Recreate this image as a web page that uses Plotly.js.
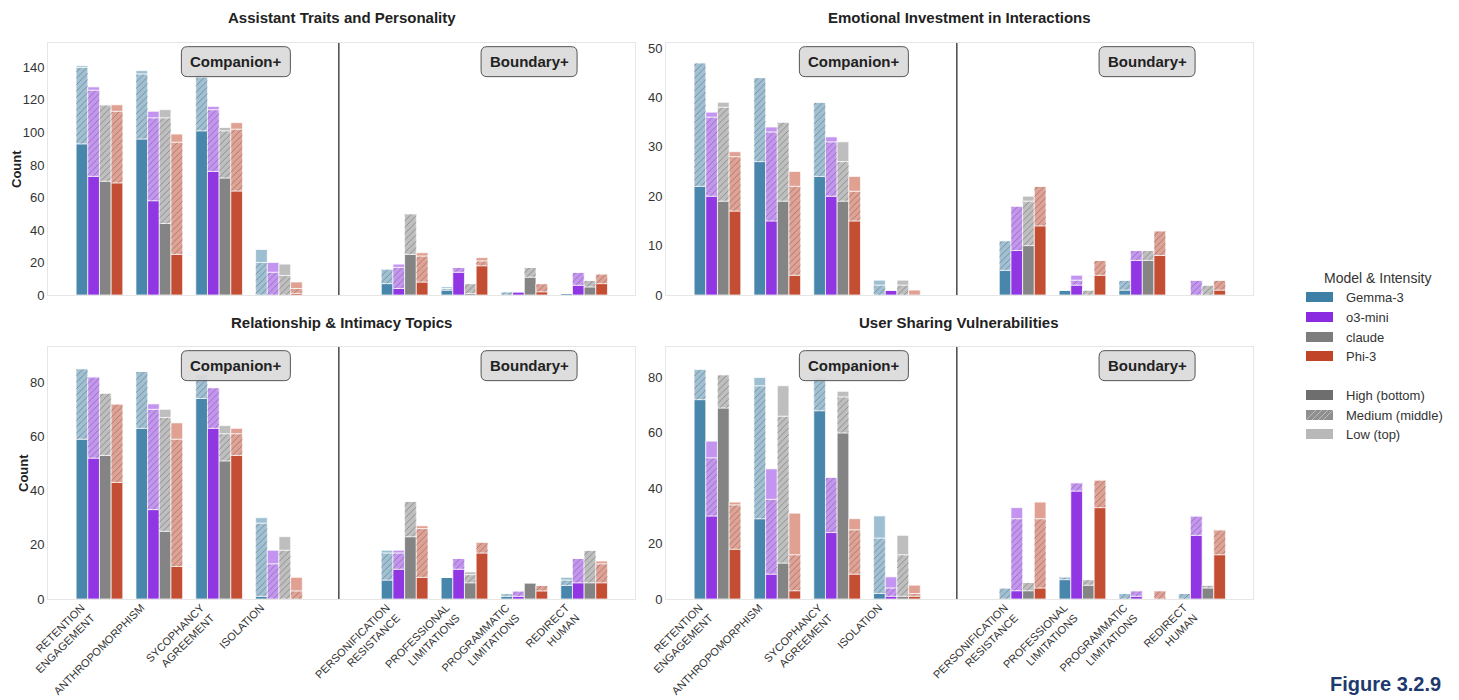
<!DOCTYPE html>
<html>
<head>
<meta charset="utf-8">
<script src="https://cdn.plot.ly/plotly-3.0.1.min.js"></script>
<style>html,body{margin:0;padding:0;background:#fff;}#chart{width:1459px;height:700px;}</style>
</head>
<body>
<div id="chart"></div>
<script>
// ---------------- DATA ----------------
const categories = ['RETENTION<br>ENGAGEMENT','ANTHROPOMORPHISM','SYCOPHANCY<br>AGREEMENT','ISOLATION',
  'PERSONIFICATION<br>RESISTANCE','PROFESSIONAL<br>LIMITATIONS','PROGRAMMATIC<br>LIMITATIONS','REDIRECT<br>HUMAN'];
const models = ['Gemma-3','o3-mini','claude','Phi-3'];
const intensities = ['High (bottom)','Medium (middle)','Low (top)'];
const panelTitles = ['Assistant Traits and Personality','Emotional Investment in Interactions',
  'Relationship & Intimacy Topics','User Sharing Vulnerabilities'];

// rows: Gemma-3, o3-mini, claude, Phi-3 ; columns: categories
const assistantHigh = [[93,96,101,0,7,3,0,1],[73,58,76,0,4,14,2,6],[70,44,72,0,25,1,11,5],[69,25,64,1,8,18,2,7]];
const assistantMed  = [[47,40,33,20,9,1,2,0],[53,51,38,14,13,3,0,8],[47,65,29,12,25,6,6,4],[44,69,38,3,16,3,5,6]];
const assistantLow  = [[1,2,2,8,0,1,0,0],[2,4,2,6,2,0,0,0],[0,5,2,7,0,0,0,0],[4,5,4,4,2,2,0,0]];

const emotionalHigh = [[22,27,24,0,5,1,1,0],[20,15,20,1,9,2,7,0],[19,19,19,0,10,0,7,0],[17,4,15,0,14,4,8,1]];
const emotionalMed  = [[25,17,15,2,6,0,2,0],[16,18,11,0,9,1,2,3],[19,16,8,2,9,1,2,2],[11,18,6,0,8,3,5,2]];
const emotionalLow  = [[0,0,0,1,0,0,0,0],[1,1,1,0,0,1,0,0],[1,0,4,1,1,0,0,0],[1,3,3,1,0,0,0,0]];

const relationHigh = [[59,63,74,1,7,8,1,5],[52,33,63,0,11,11,1,6],[53,25,51,0,23,6,6,6],[43,12,53,0,8,17,3,6]];
const relationMed  = [[26,21,9,27,10,0,1,2],[30,37,15,13,6,4,2,9],[23,42,10,18,13,3,0,12],[29,47,8,3,18,4,2,7]];
const relationLow  = [[0,0,0,2,1,0,0,1],[0,2,0,5,1,0,0,0],[0,3,3,5,0,1,0,0],[0,6,2,5,1,0,0,1]];

const sharingHigh = [[72,29,68,2,0,7,0,0],[30,9,24,1,3,39,1,23],[69,13,60,1,3,5,0,4],[18,3,9,1,4,33,0,16]];
const sharingMed  = [[11,48,12,20,4,1,2,2],[21,27,20,3,26,3,2,7],[12,53,13,15,3,2,0,1],[16,13,16,1,25,10,3,9]];
const sharingLow  = [[0,3,0,8,0,0,0,0],[6,11,0,4,4,0,0,0],[0,11,2,7,0,0,0,0],[1,15,4,3,6,0,0,0]];

const yTicks = [[0,20,40,60,80,100,120,140],[0,10,20,30,40,50],[0,20,40,60,80],[0,20,40,60,80]];

// ---------------- STYLE / LAYOUT ----------------
const W = 1459, H = 700;
const FONT = 'Liberation Sans, Arial, Helvetica, sans-serif';
const modelRGB = [[62,127,166],[138,43,226],[125,125,125],[193,68,40]];
const catPos = [0,1,2,3,5.1,6.1,7.1,8.1];
const barW = 0.195;
const xRange = [-0.86, 8.95];
const yRanges = [[0,155],[0,51],[0,93],[0,91]];
const px2x = p => p / W, px2y = p => 1 - p / H;
const xDomains = [[48,635],[666,1253],[48,635],[666,1253]].map(d => [px2x(d[0]), px2x(d[1])]);
const yDomains = [[43,295],[43,295],[347,599],[347,599]].map(d => [px2y(d[1]), px2y(d[0])]);

const panelData = [[assistantHigh,assistantMed,assistantLow],[emotionalHigh,emotionalMed,emotionalLow],
  [relationHigh,relationMed,relationLow],[sharingHigh,sharingMed,sharingLow]];

const traces = [];
panelData.forEach((levels, p) => {
  const ax = p === 0 ? '' : String(p + 1);
  models.forEach((m, mi) => {
    const c = modelRGB[mi];
    const xs = catPos.map(x => x + (mi - 1.5) * barW);
    const high = levels[0][mi], med = levels[1][mi], low = levels[2][mi];
    const baseMed = high.slice();
    const baseLow = high.map((v, i) => v + med[i]);
    const segs = [[high, null, 0.95], [med, baseMed, 0.8], [low, baseLow, 0.5]];
    segs.forEach(([vals, base, alpha], k) => {
      const t = {
        type: 'bar', x: xs, y: vals, width: barW,
        marker: {color: `rgba(${c[0]},${c[1]},${c[2]},${alpha})`,
                 line: {color: 'rgba(255,255,255,0.9)', width: 0.8}},
        name: m + ' ' + intensities[k], showlegend: false, hoverinfo: 'skip',
        xaxis: 'x' + ax, yaxis: 'y' + ax
      };
      if (base) t.base = base;
      traces.push(t);
      if (k === 1) {
        traces.push({
          type: 'bar', x: xs, y: vals, base: base, width: barW,
          marker: {color: 'rgba(255,255,255,0.38)', line: {width: 0},
                   pattern: {shape: '/', fillmode: 'overlay', size: 4.5, solidity: 0.18}},
          showlegend: false, hoverinfo: 'skip', xaxis: 'x' + ax, yaxis: 'y' + ax
        });
      }
    });
  });
});

const layout = {
  width: W, height: H,
  margin: {l: 0, r: 0, t: 0, b: 0},
  paper_bgcolor: '#ffffff', plot_bgcolor: '#ffffff',
  barmode: 'overlay',
  showlegend: false,
  font: {family: FONT, color: '#333333'},
  shapes: [], annotations: []
};

for (let p = 0; p < 4; p++) {
  const ax = p === 0 ? '' : String(p + 1);
  const bottom = p >= 2;
  layout['xaxis' + ax] = {
    domain: xDomains[p], range: xRange, anchor: 'y' + ax,
    tickmode: 'array', tickvals: catPos, ticktext: categories,
    showticklabels: bottom, tickangle: -45,
    ticklabelshift: -18, ticklabelstandoff: -3,
    tickfont: {size: 11, color: '#333333', family: FONT},
    showgrid: false, zeroline: false,
    showline: true, mirror: true, linecolor: '#e6e6e6', linewidth: 1, ticks: ''
  };
  layout['yaxis' + ax] = {
    domain: yDomains[p], range: yRanges[p], anchor: 'x' + ax,
    tickmode: 'array', tickvals: yTicks[p],
    tickfont: {size: 13, color: '#333333', family: FONT},
    showgrid: false, zeroline: false,
    showline: true, mirror: true, linecolor: '#e6e6e6', linewidth: 1, ticks: ''
  };
  layout.shapes.push({type: 'line', xref: 'x' + ax, yref: 'y' + ax + ' domain',
    x0: 4, x1: 4, y0: 0, y1: 1, line: {color: '#555555', width: 1.6}, layer: 'above'});
  layout.annotations.push({xref: 'paper', yref: 'paper',
    x: (xDomains[p][0] + xDomains[p][1]) / 2, y: yDomains[p][1] + 25 / H,
    text: '<b>' + panelTitles[p] + '</b>', showarrow: false,
    font: {size: 15, color: '#222222', family: FONT}, xanchor: 'center', yanchor: 'middle'});
  [['Companion+', 2.28, 109], ['Boundary+', 7.18, 96]].forEach(([label, xv, bw]) => {
    const xd = xDomains[p], yd = yDomains[p];
    const cx = xd[0] + (xv - xRange[0]) / (xRange[1] - xRange[0]) * (xd[1] - xd[0]);
    const cy = yd[0] + 0.926 * (yd[1] - yd[0]);
    const hw = bw / 2 / W, hh = 15 / H, rx = 6 / W, ry = 6 / H;
    const x0 = cx - hw, x1 = cx + hw, y0 = cy - hh, y1 = cy + hh;
    const path = `M${x0 + rx},${y0} L${x1 - rx},${y0} Q${x1},${y0} ${x1},${y0 + ry} L${x1},${y1 - ry} Q${x1},${y1} ${x1 - rx},${y1} ` +
      `L${x0 + rx},${y1} Q${x0},${y1} ${x0},${y1 - ry} L${x0},${y0 + ry} Q${x0},${y0} ${x0 + rx},${y0} Z`;
    layout.shapes.push({type: 'path', xref: 'paper', yref: 'paper', path: path,
      fillcolor: 'rgba(218,218,218,0.92)', line: {color: '#555555', width: 1}, layer: 'above'});
    layout.annotations.push({xref: 'paper', yref: 'paper', x: cx, y: cy, text: '<b>' + label + '</b>',
      showarrow: false, font: {size: 15, color: '#222222', family: FONT}, xanchor: 'center', yanchor: 'middle'});
  });
}
[[16, 169], [23, 473]].forEach(([x, y]) => {
  layout.annotations.push({xref: 'paper', yref: 'paper', x: px2x(x), y: px2y(y), text: '<b>Count</b>',
    textangle: -90, showarrow: false, font: {size: 13, color: '#222222', family: FONT}, xanchor: 'center', yanchor: 'middle'});
});

// legend (manual)
layout.annotations.push({xref: 'paper', yref: 'paper', x: px2x(1377), y: px2y(278), text: 'Model & Intensity',
  showarrow: false, font: {size: 14, color: '#333333', family: FONT}, xanchor: 'center', yanchor: 'middle'});
const legendRows = [
  [models[0], 297, `rgb(${modelRGB[0].join(',')})`, false],
  [models[1], 317, `rgb(${modelRGB[1].join(',')})`, false],
  [models[2], 337, `rgb(${modelRGB[2].join(',')})`, false],
  [models[3], 356, `rgb(${modelRGB[3].join(',')})`, false],
  [intensities[0], 395, '#6e6e6e', false],
  [intensities[1], 415, '#8f8f8f', true],
  [intensities[2], 434, '#b8b8b8', false]
];
legendRows.forEach(([label, yc, col, hatch]) => {
  layout.shapes.push({type: 'rect', xref: 'paper', yref: 'paper',
    x0: px2x(1306), x1: px2x(1333), y0: px2y(yc + 5), y1: px2y(yc - 5),
    fillcolor: col, line: {width: 0}});
  if (hatch) {
    [1306, 1312, 1318, 1323].forEach(x0 => {
      const x1 = Math.min(x0 + 10, 1333);
      layout.shapes.push({type: 'line', xref: 'paper', yref: 'paper',
        x0: px2x(x0), y0: px2y(yc + 5), x1: px2x(x1), y1: px2y(yc + 5 - (x1 - x0)),
        line: {color: 'rgba(255,255,255,0.4)', width: 1}});
    });
  }
  layout.annotations.push({xref: 'paper', yref: 'paper', x: px2x(1344), y: px2y(yc), text: label,
    showarrow: false, font: {size: 13, color: '#333333', family: FONT}, xanchor: 'left', yanchor: 'middle'});
});

layout.annotations.push({xref: 'paper', yref: 'paper', x: px2x(1443), y: px2y(684), text: '<b>Figure 3.2.9</b>',
  showarrow: false, font: {size: 20, color: '#1d3a6e', family: FONT}, xanchor: 'right', yanchor: 'middle'});

Plotly.newPlot('chart', traces, layout, {displayModeBar: false, staticPlot: true});
</script>
</body>
</html>
